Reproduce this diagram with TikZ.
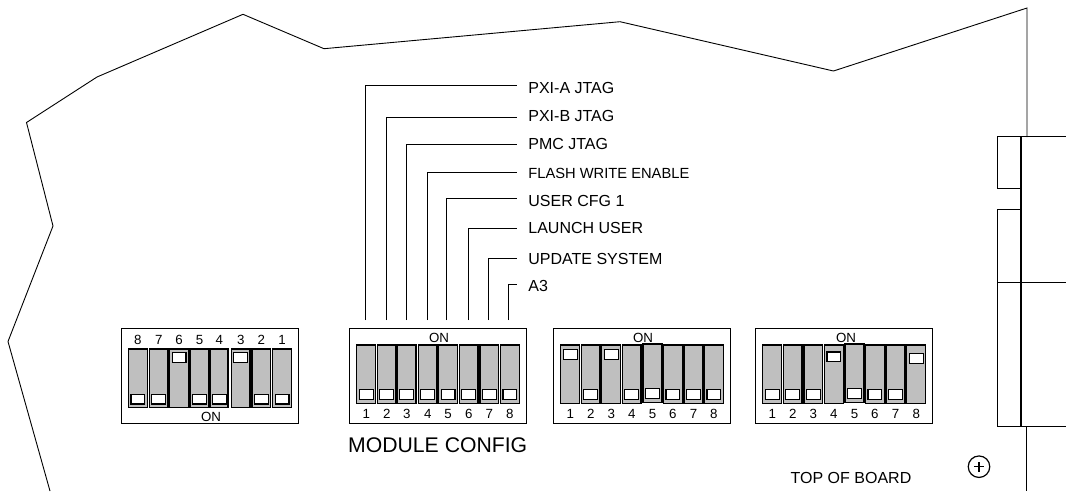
\documentclass[tikz,border=0pt]{standalone}
\usepackage{fontspec}
\setmainfont{Liberation Sans}
\usetikzlibrary{arrows.meta}
\tikzset{
  swbody/.style={draw,line width=1.3pt,fill=swgray,inner sep=0pt,minimum width=#1,minimum height=58.7pt},
  swbody/.default=18.8pt,
  swknob/.style={draw,line width=1.2pt,fill=white,inner sep=0pt,minimum width=13.8pt,minimum height=9.8pt},
  swnum/.style={font=\fontsize{13.3}{14}\selectfont,inner sep=0pt},
  dipbox/.style={draw,line width=1pt,fill=white,inner sep=0pt,minimum width=177pt,minimum height=94.6pt},
  leader/.style={line width=1.6pt},
  sigl/.style={anchor=west,inner xsep=11.5pt,inner ysep=0pt,text height=11.5pt,text depth=0pt,font=\fontsize{16}{18}\selectfont},
  outline/.style={line width=.9pt}
}
\definecolor{swgray}{HTML}{BFBFBF}
% name, number, x, body y, number y, knob y, optional body width
\newcommand{\dipswitch}[7][18.8pt]{
  \node[swbody=#1] (#2) at (#4,#5) {};
  \node[swknob] (#2k) at (#4,#7) {};
  \node[swnum] (#2n) at (#4,#6) {#3};
}
\begin{document}
\begin{tikzpicture}[x=1pt,y=-1pt]
\useasboundingbox (0,0) rectangle (1066,491);
% board edge
\draw[outline] (50,491) -- (8,341.5) -- (53,226) -- (26.5,122.5) -- (97,77) -- (243,14.3) -- (324,48.7) -- (620,21.7) -- (833.5,71) -- (1027,8) -- (1027,137);
\draw[outline] (1026.5,427) -- (1026.5,491);

% connector on the right
\draw[leader] (997.5,136.5) rectangle (1021,188.5);
\draw[leader] (997.5,209.5) rectangle (1021,282.5);
\draw[leader] (997.5,282.5) rectangle (1021,426.5);
\draw[leader] (1021,136.5) -- (1066,136.5);
\draw[leader] (1021,282.5) -- (1066,282.5);
\draw[leader] (1021,426.5) -- (1066,426.5);
\draw[leader] (1021,136.5) -- (1021,426.5);

% dip boxes
\node[dipbox] (dipa) at (209.7,376) {};
\node[dipbox] (dipb) at (437.5,376) {};
\node[dipbox] (dipc) at (642,376) {};
\node[dipbox] (dipd) at (844,376) {};

\dipswitch{a1}{8}{137.8}{378.3}{340}{399}
\dipswitch{a2}{7}{158.7}{378.3}{340}{399}
\dipswitch{a3}{6}{179}{378.3}{340}{357.3}
\dipswitch{a4}{5}{199.5}{378.3}{340}{399}
\dipswitch[17.3pt]{a5}{4}{219.3}{378.3}{340}{399}
\dipswitch{a6}{3}{240.7}{378.3}{340}{357.3}
\dipswitch{a7}{2}{261.3}{378.3}{340}{399}
\dipswitch{a8}{1}{282}{378.3}{340}{399}

\dipswitch{b1}{1}{366.2}{374.2}{414}{394.3}
\dipswitch{b2}{2}{386.7}{374.2}{414}{394.3}
\dipswitch{b3}{3}{406.7}{374.2}{414}{394.3}
\dipswitch{b4}{4}{427.7}{374.2}{414}{394.3}
\dipswitch{b5}{5}{448}{374.2}{414}{394.3}
\dipswitch{b6}{6}{468.7}{374.2}{414}{394.3}
\dipswitch{b7}{7}{489.3}{374.2}{414}{394.3}
\dipswitch{b8}{8}{509.8}{374.2}{414}{394.3}

\dipswitch{c1}{1}{570.2}{374.2}{414}{354.3}
\dipswitch{c2}{2}{590.7}{374.2}{414}{394.3}
\dipswitch{c3}{3}{611.2}{374.2}{414}{354.3}
\dipswitch{c4}{4}{631.7}{374.2}{414}{394.3}
\dipswitch{c5}{5}{652.5}{373.2}{414}{393.7}
\dipswitch{c6}{6}{672.8}{374.2}{414}{394.3}
\dipswitch{c7}{7}{693.5}{374.2}{414}{394.3}
\dipswitch{c8}{8}{713.8}{374.2}{414}{394.3}

\dipswitch{d1}{1}{772.2}{374.2}{414}{394.3}
\dipswitch{d2}{2}{792.7}{374.2}{414}{394.3}
\dipswitch{d3}{3}{813.3}{374.2}{414}{394.3}
\dipswitch{d4}{4}{833.8}{374.2}{414}{356.8}
\dipswitch{d5}{5}{854.5}{373.2}{414}{393.7}
\dipswitch{d6}{6}{874.8}{374.2}{414}{394.3}
\dipswitch{d7}{7}{895.5}{374.2}{414}{394.3}
\dipswitch{d8}{8}{916.2}{374.2}{414}{358.5}

\node[swnum] (ona) at (211,417) {ON};
\node[swnum] (onb) at (439,337.5) {ON};
\node[swnum] (onc) at (643,337.5) {ON};
\node[swnum] (ond) at (846,337.5) {ON};

% signal names
\node[sigl] (l1) at (516.7,87.3) {PXI-A JTAG};
\node[sigl] (l2) at (516.7,115.7) {PXI-B JTAG};
\node[sigl] (l3) at (516.7,143.7) {PMC JTAG};
\node[sigl,font=\fontsize{14.7}{16}\selectfont] (l4) at (516.7,172.3) {FLASH WRITE ENABLE};
\node[sigl] (l5) at (516.7,200.3) {USER CFG 1};
\node[sigl] (l6) at (516.7,227.7) {LAUNCH USER};
\node[sigl] (l7) at (516.7,258.3) {UPDATE SYSTEM};
\node[sigl] (l8) at (516.7,286) {A3};

\coordinate (p1) at (365.5,320);
\coordinate (p2) at (386.5,320);
\coordinate (p3) at (406.5,320);
\coordinate (p4) at (427.5,320);
\coordinate (p5) at (446.5,320);
\coordinate (p6) at (468.5,320);
\coordinate (p7) at (488.5,320);
\coordinate (p8) at (508.5,320);

\draw[leader] (p1) |- ([yshift=1.8pt]l1.west);
\draw[leader] (p2) |- ([yshift=-1.8pt]l2.west);
\draw[leader] (p3) |- ([yshift=-.8pt]l3.west);
\draw[leader] (p4) |- ([yshift=-.2pt]l4.west);
\draw[leader] (p5) |- ([yshift=1.8pt]l5.west);
\draw[leader] (p6) |- ([yshift=-.8pt]l6.west);
\draw[leader] (p7) |- ([yshift=-.2pt]l7.west);
\draw[leader] (p8) |- ([yshift=1.5pt]l8.west);

\node[inner sep=0pt,font=\fontsize{21.2}{24}\selectfont] (modcfg) at (437.7,445) {MODULE CONFIG};
\node[inner sep=0pt,font=\fontsize{16}{18}\selectfont] (topb) at (851,477.5) {TOP OF BOARD};

% mark
\node[draw,circle,line width=1.2pt,minimum size=21.5pt,inner sep=0pt] (mark) at (979,466.7) {};
\draw[line width=1.2pt] ([xshift=-5pt]mark.center) -- ([xshift=5pt]mark.center);
\draw[line width=1.2pt] ([yshift=-5pt]mark.center) -- ([yshift=5pt]mark.center);
\end{tikzpicture}
\end{document}
